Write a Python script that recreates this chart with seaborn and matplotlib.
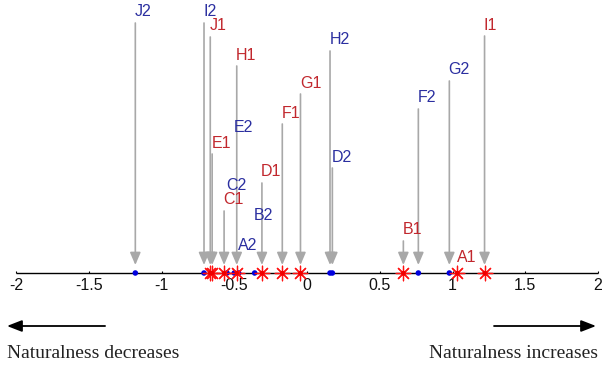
import numpy as np
import matplotlib
matplotlib.use('Agg')
import matplotlib.pyplot as plt
import seaborn as sns

# scores of the two series on the naturalness scale
labels1 = ['A1', 'B1', 'C1', 'D1', 'E1', 'F1', 'G1', 'H1', 'I1', 'J1']
values1 = [1.033, 0.662, -0.57, -0.31, -0.652, -0.17, -0.045, -0.483, 1.22, -0.665]
labels2 = ['A2', 'B2', 'C2', 'D2', 'E2', 'F2', 'G2', 'H2', 'I2', 'J2']
values2 = [-0.47, -0.36, -0.55, 0.174, -0.50, 0.765, 0.978, 0.158, -0.708, -1.18]
ticks = [-2, -1.5, -1, -0.5, 0, 0.5, 1, 1.5, 2]
tick_labels = ['-2', '-1.5', '-1', '-0.5', '0', '0.5', '1', '1.5', '2']

# label heights above the line (px) and whether an arrow is drawn
height1 = [15, 43, 73, 101, 130, 160, 190, 218, 248, 247]
arrow1 = [False, True, True, True, True, True, True, True, True, True]
height2 = [28, 58, 88, 116, 146, 175, 203, 233, 261, 261]
arrow2 = [False, False, False, True, False, True, True, True, True, True]

blue_txt = '#2b2fa0'
red_txt = '#c1272d'
grey = '#a8a8a8'

sns.set_style('white')
fig = plt.figure(figsize=(6.03, 3.69), dpi=100)
ax = fig.add_axes([0, 0, 1, 1])
ax.set_xlim(-2.110, 2.034)
ax.set_ylim(-96, 273)
ax.axis('off')

# number line with ticks
ax.hlines(0, -2, 2, color='black', lw=1.0, zorder=2)
ax.vlines(ticks, 0, 2.5, color='black', lw=0.8, zorder=2)
for t, tl in zip(ticks, tick_labels):
    ax.text(t, -13, tl, ha='center', va='center', fontsize=11.5,
            family='Liberation Sans', color='#111111')

# labels and arrows
def add_labels(labels, values, heights, arrows, color):
    for lab, v, h, a in zip(labels, values, heights, arrows):
        ax.text(v - 0.005, h, lab, ha='left', va='center', fontsize=11.5,
                family='Liberation Sans', color=color, zorder=4)
        if a:
            ax.annotate('', xy=(v, 8), xytext=(v, h - 11),
                        arrowprops=dict(arrowstyle='-|>,head_length=0.75,head_width=0.32',
                                        color=grey, lw=1.2, shrinkA=0, shrinkB=0,
                                        mutation_scale=10), zorder=1)

add_labels(labels1, values1, height1, arrow1, red_txt)
add_labels(labels2, values2, height2, arrow2, blue_txt)

# points
sns.scatterplot(x=values2, y=np.zeros(len(values2)), color='#0000dd', s=16,
                edgecolor='none', ax=ax, zorder=3)
sns.scatterplot(x=values1, y=np.zeros(len(values1)), marker=(8, 2, 0), s=110,
                color='#ff1010', linewidth=0.9, ax=ax, zorder=3)
sns.scatterplot(x=values1, y=np.zeros(len(values1)), color='#ee0000', s=10,
                edgecolor='none', ax=ax, zorder=3)

# direction arrows and captions
arrow_kw = dict(arrowstyle='-|>,head_length=0.9,head_width=0.35', color='black',
                lw=1.3, shrinkA=0, shrinkB=0, mutation_scale=10)
ax.annotate('', xy=(-2.062, -53), xytext=(-1.388, -53), arrowprops=arrow_kw)
ax.annotate('', xy=(1.986, -53), xytext=(1.285, -53), arrowprops=arrow_kw)
ax.text(-2.06, -80, 'Naturalness decreases', ha='left', va='center', fontsize=14,
        family='Liberation Serif', color='#222222')
ax.text(2.0, -80, 'Naturalness increases', ha='right', va='center', fontsize=14,
        family='Liberation Serif', color='#222222')

fig.savefig('out.png', dpi=100)
